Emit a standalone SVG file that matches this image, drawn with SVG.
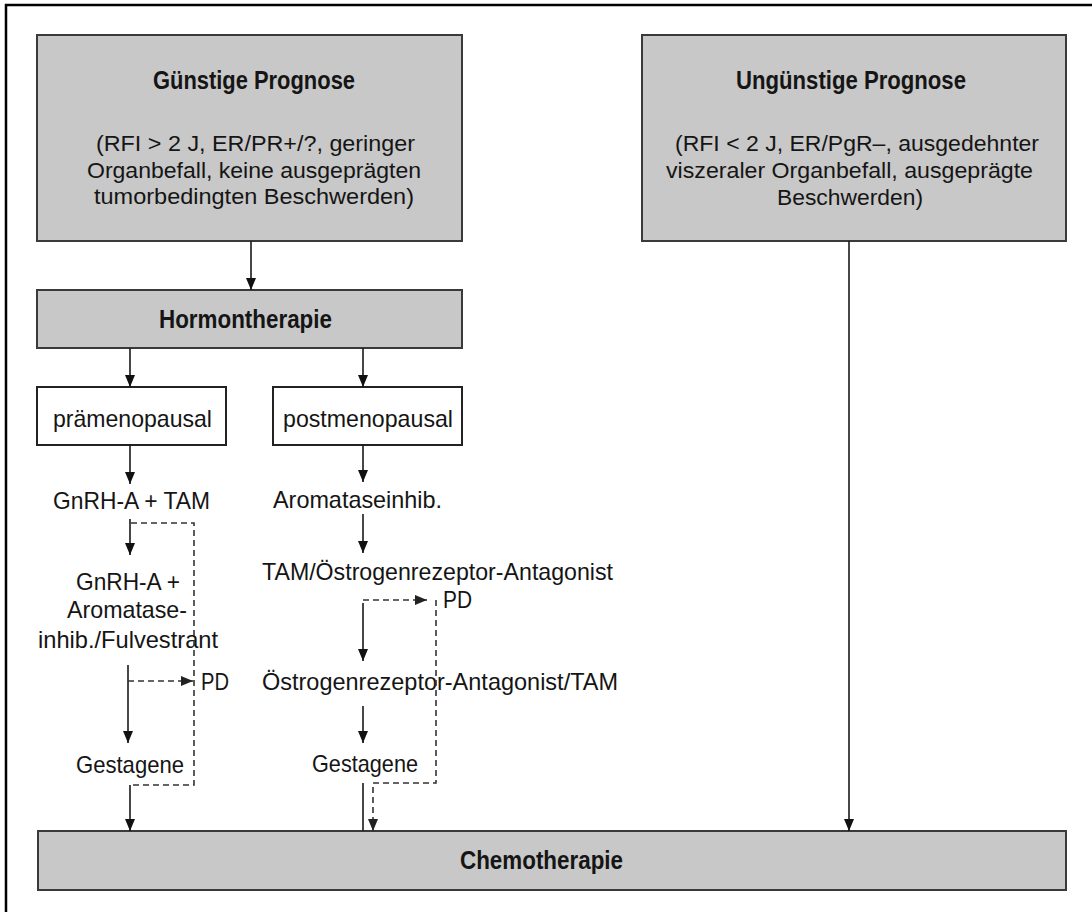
<svg xmlns="http://www.w3.org/2000/svg" width="1092" height="912" viewBox="0 0 1092 912">
<defs>
<marker id="ah" markerUnits="userSpaceOnUse" markerWidth="12" markerHeight="10" refX="12" refY="5" orient="auto"><path d="M0,0 L12,5 L0,10 z" fill="#111"/></marker>
<marker id="ahd" markerUnits="userSpaceOnUse" markerWidth="12" markerHeight="10" refX="12" refY="5" orient="auto"><path d="M0,0 L12,5 L0,10 z" fill="#222"/></marker>
<style>
.gray{fill:#c8c8c8;stroke:#3a3a3a;stroke-width:2}
.white{fill:#fff;stroke:#222;stroke-width:2}
text{font-family:"Liberation Sans Narrow","Liberation Sans",Arial,sans-serif;fill:#151515}
.t{font-size:24px}
.b{font-size:22px}
.h{font-size:25px;font-weight:bold}
.c{fill:none;stroke:#1a1a1a;stroke-width:1.6}
.d{fill:none;stroke:#333;stroke-width:1.6;stroke-dasharray:6 4}
</style>
</defs>
<rect x="6" y="5" width="1100" height="920" fill="#fff" stroke="#000" stroke-width="2.5"/>

<g id="guenstig">
<rect class="gray" x="37" y="35" width="425" height="206"/>
<text class="h" x="153" y="89" textLength="202" lengthAdjust="spacingAndGlyphs">Günstige Prognose</text>
<text class="b" x="96" y="151" textLength="319" lengthAdjust="spacingAndGlyphs">(RFI &gt; 2 J, ER/PR+/?, geringer</text>
<text class="b" x="87" y="178" textLength="334" lengthAdjust="spacingAndGlyphs">Organbefall, keine ausgeprägten</text>
<text class="b" x="94" y="204" textLength="320" lengthAdjust="spacingAndGlyphs">tumorbedingten Beschwerden)</text>
</g>

<g id="unguenstig">
<rect class="gray" x="642" y="35" width="424" height="206"/>
<text class="h" x="736" y="89" textLength="230" lengthAdjust="spacingAndGlyphs">Ungünstige Prognose</text>
<text class="b" x="675" y="151" textLength="364" lengthAdjust="spacingAndGlyphs">(RFI &lt; 2 J, ER/PgR–, ausgedehnter</text>
<text class="b" x="666" y="178" textLength="367" lengthAdjust="spacingAndGlyphs">viszeraler Organbefall, ausgeprägte</text>
<text class="b" x="777" y="205" textLength="146" lengthAdjust="spacingAndGlyphs">Beschwerden)</text>
</g>

<g id="hormon">
<rect class="gray" x="37" y="290" width="425" height="58"/>
<text class="h" x="159" y="328" textLength="173" lengthAdjust="spacingAndGlyphs">Hormontherapie</text>
</g>

<g id="prae">
<rect class="white" x="37" y="387" width="189" height="58"/>
<text class="t" x="53" y="427" textLength="159" lengthAdjust="spacingAndGlyphs">prämenopausal</text>
</g>

<g id="post">
<rect class="white" x="273" y="387" width="189" height="58"/>
<text class="t" x="283" y="427" textLength="170" lengthAdjust="spacingAndGlyphs">postmenopausal</text>
</g>

<g id="gnrh-tam"><text class="t" x="53" y="509" textLength="157" lengthAdjust="spacingAndGlyphs">GnRH-A + TAM</text></g>
<g id="gnrh-ai">
<text class="t" x="76" y="590" textLength="104" lengthAdjust="spacingAndGlyphs">GnRH-A +</text>
<text class="t" x="67" y="618" textLength="120" lengthAdjust="spacingAndGlyphs">Aromatase-</text>
<text class="t" x="38" y="648" textLength="180" lengthAdjust="spacingAndGlyphs">inhib./Fulvestrant</text>
</g>
<g id="pd-left"><text class="t" x="201" y="690" textLength="28" lengthAdjust="spacingAndGlyphs">PD</text></g>
<g id="gestagene-left"><text class="t" x="76" y="773" textLength="108" lengthAdjust="spacingAndGlyphs">Gestagene</text></g>

<g id="aromatase"><text class="t" x="273" y="508" textLength="169" lengthAdjust="spacingAndGlyphs">Aromataseinhib.</text></g>
<g id="tam-oe"><text class="t" x="262" y="580" textLength="351" lengthAdjust="spacingAndGlyphs">TAM/Östrogenrezeptor-Antagonist</text></g>
<g id="pd-right"><text class="t" x="443" y="608" textLength="29" lengthAdjust="spacingAndGlyphs">PD</text></g>
<g id="oe-tam"><text class="t" x="262" y="690" textLength="356" lengthAdjust="spacingAndGlyphs">Östrogenrezeptor-Antagonist/TAM</text></g>
<g id="gestagene-right"><text class="t" x="312" y="772" textLength="106" lengthAdjust="spacingAndGlyphs">Gestagene</text></g>

<g id="chemo">
<rect class="gray" x="38" y="831" width="1028" height="59"/>
<text class="h" x="460" y="869" textLength="163" lengthAdjust="spacingAndGlyphs">Chemotherapie</text>
</g>

<g id="connectors">
<path class="c" d="M251,241 V290" marker-end="url(#ah)"/>
<path class="c" d="M130,348 V387" marker-end="url(#ah)"/>
<path class="c" d="M363,348 V387" marker-end="url(#ah)"/>
<path class="c" d="M130,445 V484" marker-end="url(#ah)"/>
<path class="c" d="M130,519 V555" marker-end="url(#ah)"/>
<path class="c" d="M128,665 V743" marker-end="url(#ah)"/>
<path class="c" d="M130,785 V831" marker-end="url(#ah)"/>
<path class="c" d="M363,445 V482" marker-end="url(#ah)"/>
<path class="c" d="M363,514 V553" marker-end="url(#ah)"/>
<path class="c" d="M363,603 V661" marker-end="url(#ah)"/>
<path class="c" d="M363,706 V743" marker-end="url(#ah)"/>
<path class="c" d="M363,783 V831"/>
<path class="c" d="M849,241 V831" marker-end="url(#ah)"/>
<path class="d" d="M131,523 H194 V785 H131"/>
<path class="d" d="M128,681 H193" marker-end="url(#ahd)"/>
<path class="d" d="M363,600 H427" marker-end="url(#ahd)"/>
<path class="d" d="M436,600 V783 H373 V831" marker-end="url(#ahd)"/>
</g>
</svg>
